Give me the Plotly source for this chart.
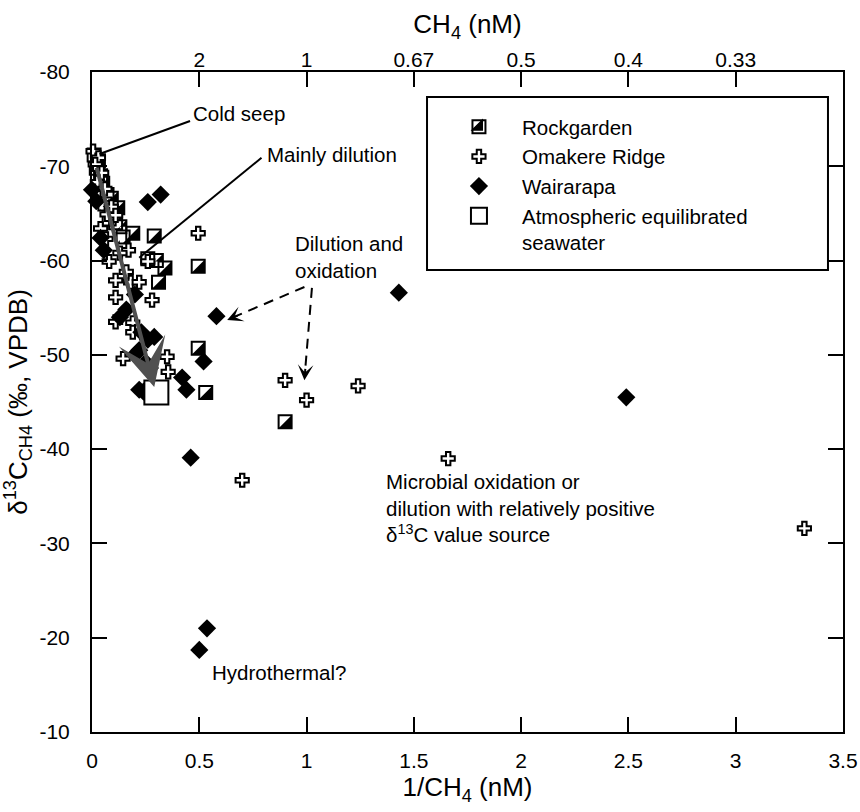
import plotly.graph_objects as go

# ---------------- data ----------------
rock_x = [0.01, 0.03, 0.02, 0.04, 0.05, 0.03, 0.07, 0.06, 0.09, 0.10, 0.12, 0.08, 0.11, 0.13,
          0.145, 0.19, 0.29, 0.26, 0.30, 0.34, 0.31, 0.495, 0.495, 0.53, 0.90]
rock_y = [-71.2, -70.6, -69.8, -69.0, -68.2, -67.4, -67.0, -66.0, -66.6, -65.0, -65.6, -64.4, -64.0, -63.6,
          -62.5, -62.9, -62.6, -60.2, -60.0, -59.2, -57.7, -59.4, -50.7, -46.0, -42.9]

omak_x = [0.005, 0.03, 0.015, 0.045, 0.025, 0.06, 0.09, 0.07, 0.11, 0.04, 0.065, 0.17, 0.08, 0.26,
          0.11, 0.18, 0.22, 0.11, 0.28, 0.19, 0.19, 0.11, 0.145, 0.35, 0.355, 0.495, 0.70, 0.90,
          1.00, 1.24, 1.66, 3.32, 0.13, 0.16]
omak_y = [-71.6, -70.9, -70.2, -69.3, -68.3, -67.6, -65.7, -64.9, -64.8, -63.4, -62.3, -61.1, -59.9, -59.9,
          -57.9, -57.7, -57.7, -56.1, -55.8, -53.4, -52.4, -53.5, -49.6, -49.8, -48.2, -62.9, -36.7, -47.3,
          -45.2, -46.7, -39.0, -31.6, -60.8, -58.8]

wair_x = [0.00, 0.02, 0.26, 0.32, 0.04, 0.055, 0.20, 0.13, 0.16, 0.26, 0.23, 0.29, 0.22, 0.20,
          0.25, 0.27, 0.22, 0.24, 0.42, 0.44, 0.52, 0.58, 0.46, 0.536, 0.50, 1.43, 2.49]
wair_y = [-67.5, -66.3, -66.2, -67.0, -62.4, -61.1, -56.4, -54.0, -54.8, -51.6, -52.4, -51.9, -50.5, -50.0,
          -49.2, -48.6, -46.3, -46.1, -47.6, -46.3, -49.3, -54.1, -39.1, -21.0, -18.7, -56.6, -45.5]

atm_x = [0.30]
atm_y = [-46.0]

x_tick_vals = [0, 0.5, 1, 1.5, 2, 2.5, 3, 3.5]
x_tick_text = ["0", "0.5", "1", "1.5", "2", "2.5", "3", "3.5"]
top_tick_vals = [0.5, 1, 1.5, 2, 2.5, 3]
top_tick_text = ["2", "1", "0.67", "0.5", "0.4", "0.33"]
y_tick_vals = [-80, -70, -60, -50, -40, -30, -20, -10]
y_tick_text = ["-80", "-70", "-60", "-50", "-40", "-30", "-20", "-10"]

FONT = "Liberation Sans, Arial, Helvetica, sans-serif"
FS = 20.5
S = 13  # Rockgarden square size

fig = go.Figure()

# Rockgarden: black square, white upper-left half, black outline
fig.add_trace(go.Scatter(x=rock_x, y=rock_y, mode="markers", showlegend=False, hoverinfo="skip",
                         cliponaxis=False,
                         marker=dict(symbol="square", size=S, color="black", line=dict(width=0))))
fig.add_trace(go.Scatter(x=rock_x, y=rock_y, mode="markers", showlegend=False, hoverinfo="skip",
                         cliponaxis=False,
                         marker=dict(symbol="triangle-sw", size=S * 5 / 3, color="white",
                                     angle=90, standoff=S / 2, line=dict(width=0))))
fig.add_trace(go.Scatter(x=rock_x, y=rock_y, mode="markers", name="Rockgarden", cliponaxis=False,
                         legendgroup="a",
                         marker=dict(symbol="square", size=S, color="rgba(0,0,0,0)",
                                     line=dict(width=2, color="black"))))
fig.add_trace(go.Scatter(x=omak_x, y=omak_y, mode="markers", name="Omakere Ridge", cliponaxis=False,
                         legendgroup="b",
                         marker=dict(symbol="cross", size=11, color="white",
                                     line=dict(width=2, color="black"))))
fig.add_trace(go.Scatter(x=wair_x, y=wair_y, mode="markers", name="Wairarapa", cliponaxis=False,
                         legendgroup="c",
                         marker=dict(symbol="diamond", size=14, color="black", line=dict(width=0))))
fig.add_trace(go.Scatter(x=atm_x, y=atm_y, mode="markers", name="Atmospheric equilibrated<br>seawater",
                         cliponaxis=False, legendgroup="d",
                         marker=dict(symbol="square", size=24, color="white",
                                     line=dict(width=2, color="black"))))
# legend-only key to draw the black half of the Rockgarden symbol
fig.add_trace(go.Scatter(x=[None], y=[None], mode="markers", name=" ", legend="legend2",
                         marker=dict(symbol="triangle-se", size=11, color="black",
                                     line=dict(width=1.5, color="black"))))
# carrier for the top axis
fig.add_trace(go.Scatter(x=[None], y=[None], xaxis="x2", showlegend=False, hoverinfo="skip"))

# ---------------- annotations ----------------
def txt(x, y, t):
    fig.add_annotation(x=x, y=y, text=t, showarrow=False, xanchor="left", yanchor="middle",
                       align="left", font=dict(family=FONT, size=FS, color="black"))

txt(0.461, -75.65, "Cold seep")
txt(0.806, -71.2, "Mainly dilution")
txt(0.937, -60.33, "Dilution and<br>oxidation")
txt(1.36, -33.76, "Microbial oxidation or<br>dilution with relatively positive<br>δ<sup>13</sup>C value source")
txt(0.55, -16.3, "Hydrothermal?")

fig.add_shape(type="line", x0=0.457, y0=-74.8, x1=0.035, y1=-71.3, line=dict(color="black", width=2))
fig.add_shape(type="line", x0=0.79, y0=-70.9, x1=0.22, y1=-60.3, line=dict(color="black", width=2))
fig.add_shape(type="line", x0=0.99, y0=-57.2, x1=0.665, y1=-54.05,
              line=dict(color="black", width=2, dash="10px,7px"))
fig.add_shape(type="line", x0=1.025, y0=-57.1, x1=0.995, y1=-48.8,
              line=dict(color="black", width=2, dash="10px,7px"))

fig.add_annotation(x=0.63, y=-53.7, text="", showarrow=True, arrowhead=3, arrowwidth=2,
                   arrowsize=1.3, arrowcolor="black", ax=12, ay=-5)
fig.add_annotation(x=0.99, y=-47.3, text="", showarrow=True, arrowhead=3, arrowwidth=2,
                   arrowsize=1.3, arrowcolor="black", ax=1, ay=-13)
# main grey mixing arrow
fig.add_annotation(x=0.29, y=-46.6, ax=0.02, ay=-70.0, axref="x", ayref="y", text="",
                   showarrow=True, arrowhead=3, arrowwidth=4, arrowsize=2.0, arrowcolor="#505050")

# legend frame
fig.add_shape(type="rect", xref="paper", yref="paper", x0=0.4461, x1=0.98, y0=0.70, y1=0.962,
              line=dict(color="black", width=2), fillcolor="white", layer="above")

tick_font = dict(family=FONT, size=21, color="black")
title_font = dict(family=FONT, size=26, color="black")
legend_common = dict(x=0.458, y=0.947, xanchor="left", yanchor="top", bgcolor="rgba(0,0,0,0)",
                     borderwidth=0, font=dict(family=FONT, size=FS, color="black"),
                     itemwidth=76, valign="top", tracegroupgap=0, itemclick=False)

fig.update_layout(
    width=860, height=812,
    margin=dict(l=92, r=17, t=72, b=80, autoexpand=False),
    paper_bgcolor="white", plot_bgcolor="white",
    font=dict(family=FONT, size=FS, color="black"),
    showlegend=True,
    legend=legend_common,
    legend2=legend_common,
    xaxis=dict(range=[0, 3.5], tickvals=x_tick_vals, ticktext=x_tick_text, ticks="inside",
               ticklen=15, tickwidth=2, tickcolor="black", showline=True, linewidth=2,
               linecolor="black", mirror=True, showgrid=False, zeroline=False, automargin=False,
               tickfont=tick_font, ticklabelstandoff=9,
               title=dict(text="1/CH<sub>4</sub> (nM)", font=title_font, standoff=6)),
    xaxis2=dict(range=[0, 3.5], overlaying="x", side="top", matches="x", tickvals=top_tick_vals,
                ticktext=top_tick_text, ticks="inside", ticklen=15, tickwidth=2, tickcolor="black",
                showline=False, showgrid=False, zeroline=False, tickfont=tick_font, automargin=False,
                title=dict(text="CH<sub>4</sub> (nM)", font=title_font, standoff=6)),
    yaxis=dict(range=[-10, -80], tickvals=y_tick_vals, ticktext=y_tick_text, ticks="inside",
               ticklen=15, tickwidth=2, tickcolor="black", showline=True, linewidth=2,
               linecolor="black", mirror="ticks", showgrid=False, zeroline=False, automargin=False,
               tickfont=tick_font, ticklabelstandoff=16,
               title=dict(text="δ<sup>13</sup>C<sub>CH4</sub> (‰, VPDB)",
                          font=dict(family=FONT, size=26, color="black"), standoff=6)),
)

fig.write_html("out.html")
